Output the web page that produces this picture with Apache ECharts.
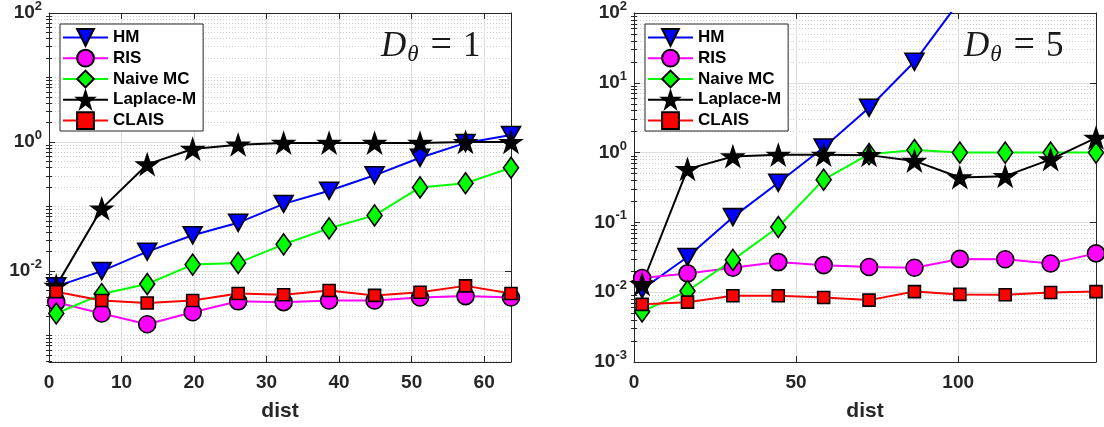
<!DOCTYPE html>
<html>
<head>
<meta charset="utf-8">
<script src="https://cdn.jsdelivr.net/npm/echarts@6/dist/echarts.min.js"></script>
<style>
html,body{margin:0;padding:0;background:#fff;}
#chart{width:1104px;height:427px;}
</style>
</head>
<body>
<div id="chart"></div>
<script>
// ---------- data ----------
const seriesNames = ['HM', 'RIS', 'Naive MC', 'Laplace-M', 'CLAIS'];

const distLeft = [1, 7.27, 13.54, 19.81, 26.08, 32.35, 38.62, 44.89, 51.16, 57.43, 63.7];
const hmLeft  = [0.0058, 0.010, 0.020, 0.036, 0.056, 0.11, 0.176, 0.305, 0.57, 0.97, 1.29];
const risLeft = [0.0033, 0.0022, 0.0015, 0.0023, 0.0034, 0.0033, 0.0035, 0.0035, 0.0039, 0.0041, 0.0039];
const mcLeft  = [0.0022, 0.0044, 0.0063, 0.0126, 0.0134, 0.026, 0.046, 0.073, 0.198, 0.23, 0.40];
const lapLeft = [0.0059, 0.093, 0.45, 0.78, 0.91, 0.97, 0.97, 0.97, 0.97, 1.0, 1.0];
const clLeft  = [0.0048, 0.0035, 0.0032, 0.0035, 0.0045, 0.0043, 0.005, 0.0042, 0.0047, 0.0059, 0.0045];

const distRight = [2.5, 16.5, 30.5, 44.5, 58.5, 72.5, 86.5, 100.5, 114.5, 128.5, 142.5];
const hmRight  = [0.011, 0.032, 0.119, 0.37, 1.18, 4.4, 20, 150, null, null, null];
const risRight = [0.016, 0.0186, 0.0224, 0.027, 0.0244, 0.023, 0.0224, 0.030, 0.0297, 0.0258, 0.036];
const mcRight  = [0.0053, 0.0104, 0.029, 0.086, 0.41, 0.95, 1.09, 1.0, 1.0, 1.0, 1.0];
const lapRight = [0.013, 0.58, 0.88, 0.93, 0.93, 0.92, 0.76, 0.44, 0.46, 0.80, 1.63];
const clRight  = [0.0067, 0.0072, 0.0089, 0.0089, 0.0084, 0.0077, 0.0102, 0.0093, 0.0092, 0.0099, 0.0102];

const xTicksLeft = [0, 10, 20, 30, 40, 50, 60];
const xTicksRight = [0, 50, 100];
const yTicksLeft = [1e-2, 1e0, 1e2];
const yTicksRight = [1e-3, 1e-2, 1e-1, 1e0, 1e1, 1e2];
const xRangeLeft = [0, 63.7];
const xRangeRight = [0, 142.5];
const yRangeLeft = [3.9e-4, 100];
const yRangeRight = [1e-3, 100];
const titleLeft = '1';
const titleRight = '5';
const xName = 'dist';

// ---------- styling helpers ----------
const FONT = 'Liberation Sans, Arial, sans-serif';
const AX = '#262626';
const colors = ['#0000ff', '#ff00ff', '#00ff00', '#000000', '#ff0000'];
const starPath = 'path://M100,0 L122.45,69.1 L195.1,69.1 L136.3,111.8 L158.8,180.9 L100,138.2 L41.2,180.9 L63.7,111.8 L4.9,69.1 L77.55,69.1 Z';
const triPath = 'path://M0,0 L100,0 L50,88 Z';
const symbols = [triPath, 'circle', 'diamond', starPath, 'rect'];
const symbolSizes = [[19, 17], 17, [15, 21], [21, 20], 12];

function minorValues(range, majors) {
  const out = [];
  for (let e = -5; e <= 3; e++) {
    for (let k = 1; k <= 9; k++) {
      const v = k * Math.pow(10, e);
      const vv = parseFloat(v.toPrecision(6));
      if (vv >= range[0] * 1.0001 && vv <= range[1] * 0.9999 && majors.indexOf(vv) < 0) out.push(vv);
    }
  }
  return out;
}

function xAxes(gridIndex, range, ticks) {
  return [
    {
      type: 'value', gridIndex, position: 'bottom', min: range[0], max: range[1],
      name: xName, nameLocation: 'middle', nameGap: 39,
      nameTextStyle: { fontFamily: FONT, fontWeight: 'bold', fontSize: 21, color: AX },
      axisLine: { show: true, onZero: false, lineStyle: { color: AX, width: 1 } },
      axisTick: { show: true, inside: true, length: 6, customValues: ticks, lineStyle: { color: AX } },
      axisLabel: { show: true, customValues: ticks, margin: 11, fontFamily: FONT, fontWeight: 'bold', fontSize: 19, color: AX },
      splitLine: { show: true, lineStyle: { color: '#dedede', width: 1 } }
    },
    {
      type: 'value', gridIndex, position: 'top', min: range[0], max: range[1],
      axisLine: { show: true, onZero: false, lineStyle: { color: AX, width: 1 } },
      axisTick: { show: true, inside: true, length: 6, customValues: ticks, lineStyle: { color: AX } },
      axisLabel: { show: false },
      splitLine: { show: false }
    }
  ];
}

function yAxes(gridIndex, range, majors) {
  const minors = minorValues(range, majors);
  const base = { type: 'log', logBase: 10, gridIndex, min: range[0], max: range[1] };
  return [
    Object.assign({}, base, {
      position: 'left',
      axisLine: { show: true, onZero: false, lineStyle: { color: AX, width: 1 } },
      axisTick: { show: true, inside: true, length: 6, customValues: majors, lineStyle: { color: AX } },
      axisLabel: {
        show: true, customValues: majors, margin: 7,
        formatter: function (v) { return '{b|10}{s|' + Math.round(Math.log10(v)) + '}'; },
        rich: {
          b: { fontFamily: FONT, fontWeight: 'bold', fontSize: 19, color: AX },
          s: { fontFamily: FONT, fontWeight: 'bold', fontSize: 13, color: AX, padding: [0, 0, 13, 0] }
        }
      },
      splitLine: { show: true, lineStyle: { color: '#dedede', width: 1 } }
    }),
    Object.assign({}, base, {
      position: 'left',
      axisLine: { show: false },
      axisTick: { show: true, inside: true, length: 3, customValues: minors, lineStyle: { color: AX } },
      axisLabel: { show: false },
      splitLine: { show: true, lineStyle: { color: '#cdcdcd', width: 1, type: [1, 2] } }
    }),
    Object.assign({}, base, {
      position: 'right',
      axisLine: { show: true, onZero: false, lineStyle: { color: AX, width: 1 } },
      axisTick: { show: true, inside: true, length: 6, customValues: majors, lineStyle: { color: AX } },
      axisLabel: { show: false },
      splitLine: { show: false }
    }),
    Object.assign({}, base, {
      position: 'right',
      axisLine: { show: false },
      axisTick: { show: true, inside: true, length: 3, customValues: minors, lineStyle: { color: AX } },
      axisLabel: { show: false },
      splitLine: { show: false }
    })
  ];
}

function makeSeries(xs, ysList, xAxisIndex, yAxisIndex) {
  return ysList.map(function (ys, i) {
    return {
      name: seriesNames[i], type: 'line', xAxisIndex, yAxisIndex,
      data: xs.map(function (x, j) { return [x, ys[j]]; }),
      symbol: symbols[i], symbolSize: symbolSizes[i], showAllSymbol: true,
      lineStyle: { color: colors[i], width: 2 },
      itemStyle: { color: colors[i], borderColor: '#000', borderWidth: 1.6 },
      clip: true, animation: false, connectNulls: false
    };
  });
}

function legendAt(left) {
  return {
    data: seriesNames, left: left, top: 24, orient: 'vertical',
    itemWidth: 45, itemHeight: 21, itemGap: 2, padding: [4, 7, 1, 2],
    borderColor: AX, borderWidth: 1, backgroundColor: '#fff', selectedMode: false,
    textStyle: { fontFamily: FONT, fontWeight: 'bold', fontSize: 17, color: '#000' }
  };
}

function titleAt(left, val) {
  const serif = 'Liberation Serif, Times New Roman, serif';
  return {
    text: '{d|D}{t|θ}{e|=}{n|' + val + '}', left: left, top: 22,
    textStyle: {
      fontWeight: 'normal',
      rich: {
        d: { fontFamily: serif, fontStyle: 'italic', fontWeight: 'normal', fontSize: 35, color: '#1a1a1a' },
        t: { fontFamily: serif, fontStyle: 'italic', fontWeight: 'normal', fontSize: 23, color: '#1a1a1a', padding: [16, 0, 0, 1] },
        e: { fontFamily: serif, fontWeight: 'normal', fontSize: 38, color: '#1a1a1a', padding: [0, 11, 0, 12] },
        n: { fontFamily: serif, fontWeight: 'normal', fontSize: 35, color: '#1a1a1a' }
      }
    }
  };
}

const option = {
  animation: false,
  backgroundColor: '#fff',
  title: [titleAt(376, titleLeft), titleAt(959, titleRight)],
  legend: [legendAt(60), legendAt(645)],
  grid: [
    { left: 49, top: 13, width: 462, height: 351, containLabel: false },
    { left: 634, top: 13, width: 462, height: 351, containLabel: false }
  ],
  xAxis: xAxes(0, xRangeLeft, xTicksLeft).concat(xAxes(1, xRangeRight, xTicksRight)),
  yAxis: yAxes(0, yRangeLeft, yTicksLeft).concat(yAxes(1, yRangeRight, yTicksRight)),
  series: makeSeries(distLeft, [hmLeft, risLeft, mcLeft, lapLeft, clLeft], 0, 0)
    .concat(makeSeries(distRight, [hmRight, risRight, mcRight, lapRight, clRight], 2, 4))
};

const chart = echarts.init(document.getElementById('chart'), null, { renderer: 'canvas' });
chart.setOption(option);
</script>
</body>
</html>
